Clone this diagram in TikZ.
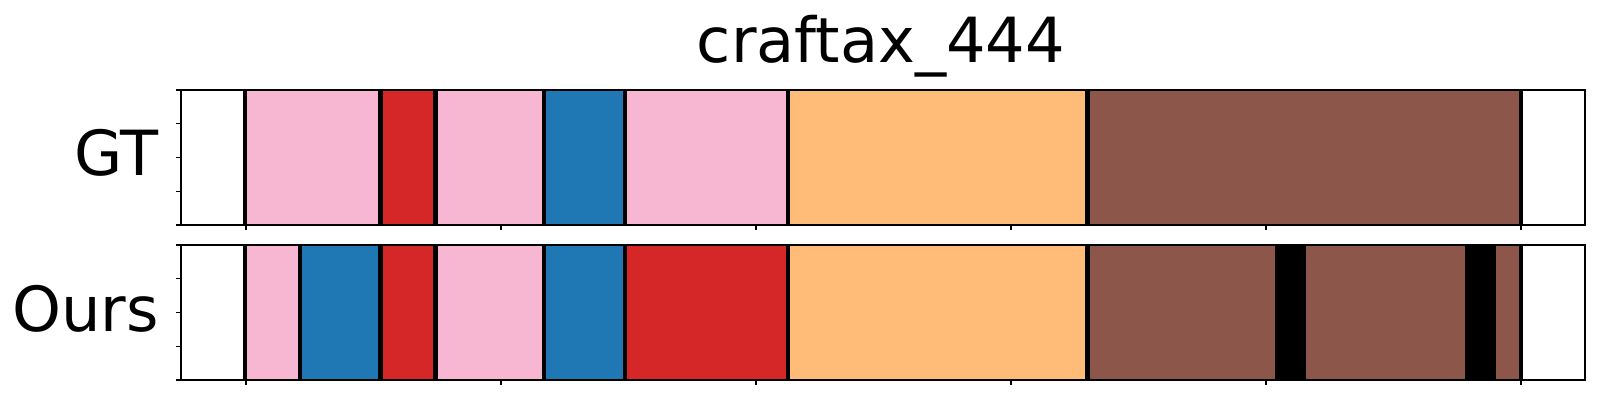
\documentclass[tikz,border=0pt]{standalone}
\usepackage{fontspec}
\setmainfont{DejaVu Sans}
\definecolor{cpink}{HTML}{F7B6D2}
\definecolor{cred}{HTML}{D62728}
\definecolor{cblue}{HTML}{1F77B4}
\definecolor{corange}{HTML}{FFBB78}
\definecolor{cbrown}{HTML}{8C564B}
\begin{document}
\begin{tikzpicture}[x=0.01cm,y=-0.01cm,
  frame/.style={draw=black,line width=0.31pt},
  tickmark/.style={draw=black,line width=0.31pt},
  sepline/.style={draw=black,line width=1.3pt},
  bigtext/.style={inner sep=0pt,font=\fontsize{17.7}{21}\selectfont}]
\useasboundingbox (0,0) rectangle (1600,400);
% title and row labels
\node[bigtext,anchor=base] (title) at (881,62.7) {craftax\_444};
\node[bigtext,anchor=base east] (gt) at (159,175) {GT};
\node[bigtext,anchor=base east] (ours) at (159.5,331.7) {Ours};
% GT segments
\foreach \a/\b/\c in {245/380.7/cpink,380.7/435.3/cred,435.3/544/cpink,544/625/cblue,625/788/cpink,788/1087.5/corange,1087.5/1521/cbrown}
  \fill[\c] (\a,90) rectangle (\b,225);
\foreach \s in {245,380.7,435.3,544,625,788,1087.5,1521}
  \draw[sepline] (\s,90) -- (\s,225);
% Ours segments
\foreach \a/\b/\c in {245/299.8/cpink,299.8/380.7/cblue,380.7/435.3/cred,435.3/544/cpink,544/625/cblue,625/788/cred,788/1087.5/corange,1087.5/1275/cbrown,1275/1306/black,1306/1465/cbrown,1465/1496/black,1496/1521/cbrown}
  \fill[\c] (\a,245) rectangle (\b,380);
\foreach \s in {245,299.8,380.7,435.3,544,625,788,1087.5,1521}
  \draw[sepline] (\s,245) -- (\s,380);
% frames
\draw[frame] (181,90) rectangle (1585,225);
\draw[frame] (181,245) rectangle (1585,380);
% y ticks
\foreach \t in {90,123.75,157.5,191.25,225,245,278.75,312.5,346.25,380}
  \draw[tickmark] (181,\t) -- (176,\t);
% x ticks
\foreach \t in {246,501,756,1011,1266,1521} {
  \draw[tickmark] (\t,225) -- (\t,230);
  \draw[tickmark] (\t,380) -- (\t,385);
}
\end{tikzpicture}
\end{document}
